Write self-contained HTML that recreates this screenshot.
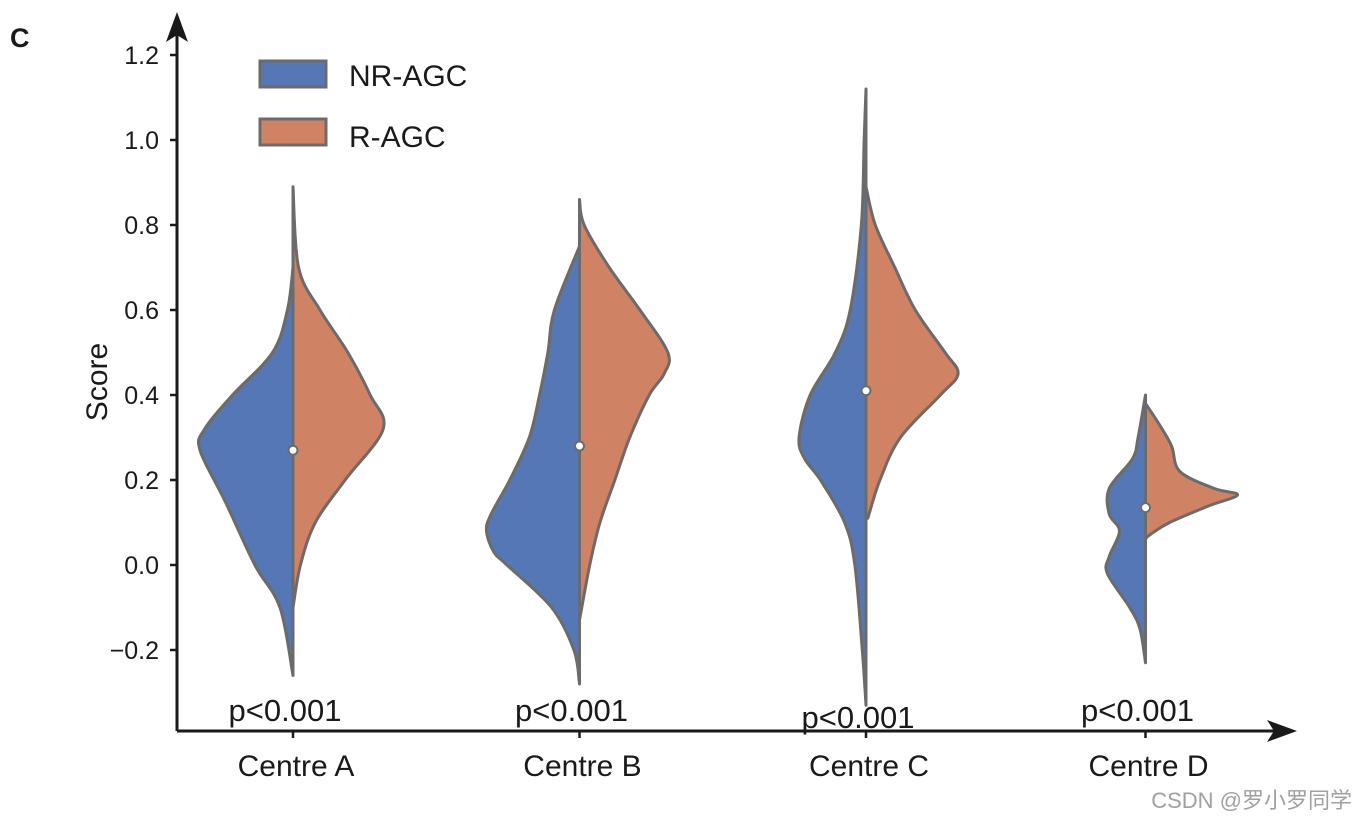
<!DOCTYPE html>
<html><head><meta charset="utf-8"><style>
body{margin:0;background:#fff}
svg text{font-family:"Liberation Sans",Arial,sans-serif;fill:#1a1a1a}
</style></head><body>
<svg width="1358" height="822" viewBox="0 0 1358 822" id="chart">
<text x="10" y="47" font-size="27" font-weight="bold">C</text>
<g id="violins"></g>
<g id="axes"></g>
<g>
 <rect x="260" y="61" width="66" height="26" fill="#5577b5" stroke="#6b6b6b" stroke-width="3"/>
 <text x="349" y="86" font-size="30">NR-AGC</text>
 <rect x="260" y="119" width="66" height="26" fill="#d08364" stroke="#6b6b6b" stroke-width="3"/>
 <text x="349" y="147" font-size="30">R-AGC</text>
</g>
<text transform="translate(107,382) rotate(-90)" text-anchor="middle" font-size="30">Score</text>
</svg>
<script>
const categories=["Centre A","Centre B","Centre C","Centre D"];
const pLabels=["p<0.001","p<0.001","p<0.001","p<0.001"];
const medians=[0.27,0.28,0.41,0.135];
const yTicks=[-0.2,0,0.2,0.4,0.6,0.8,1.0,1.2];
const yTickLabels=["\u22120.2","0.0","0.2","0.4","0.6","0.8","1.0","1.2"];
// [score, relative half-width] profiles
const nrA=[[0.70,0],[0.6,0.06],[0.5,0.22],[0.4,0.65],[0.32,0.95],[0.27,1.0],[0.15,0.73],[0.0,0.41],[-0.1,0.14],[-0.26,0]];
const rA=[[0.89,0],[0.7,0.06],[0.6,0.29],[0.5,0.59],[0.4,0.83],[0.32,0.97],[0.2,0.56],[0.1,0.24],[0.0,0.08],[-0.1,0]];
const nrB=[[0.75,0],[0.6,0.27],[0.5,0.34],[0.4,0.43],[0.3,0.54],[0.2,0.75],[0.12,0.95],[0.08,1.0],[0.03,0.92],[0.0,0.78],[-0.1,0.3],[-0.2,0.06],[-0.28,0]];
const rB=[[0.86,0],[0.8,0.05],[0.7,0.32],[0.6,0.65],[0.5,0.95],[0.45,0.91],[0.4,0.75],[0.3,0.54],[0.2,0.38],[0.1,0.22],[0.0,0.11],[-0.13,0]];
const nrC=[[1.12,0],[1.0,0.02],[0.8,0.05],[0.6,0.17],[0.5,0.33],[0.4,0.6],[0.3,0.72],[0.25,0.66],[0.2,0.49],[0.1,0.23],[0.0,0.12],[-0.2,0.04],[-0.33,0]];
const rC=[[0.89,0],[0.8,0.1],[0.7,0.31],[0.6,0.53],[0.5,0.85],[0.45,0.99],[0.4,0.8],[0.3,0.37],[0.2,0.15],[0.11,0.02]];
const nrD=[[0.40,0],[0.3,0.08],[0.25,0.14],[0.18,0.39],[0.12,0.39],[0.08,0.28],[0.02,0.39],[-0.02,0.41],[-0.1,0.17],[-0.15,0.06],[-0.23,0]];
const rD=[[0.38,0],[0.33,0.15],[0.28,0.28],[0.22,0.37],[0.18,0.74],[0.165,0.99],[0.14,0.69],[0.1,0.26],[0.07,0.04],[0.06,0]];
const nrSeries=[nrA,nrB,nrC,nrD];
const rSeries=[rA,rB,rC,rD];
const NS="http://www.w3.org/2000/svg";
const xPos=i=>293+i*286.5-(i==3?7:0);
const yPos=v=>565-v*425;
const W=93;
const svg=document.getElementById('chart');
const vg=document.getElementById('violins');
const ax=document.getElementById('axes');
function mk(t,a,p){const e=document.createElementNS(NS,t);for(const k in a)e.setAttribute(k,a[k]);(p||svg).appendChild(e);return e;}
function smooth(pts){let d=`M${pts[0][0]},${pts[0][1]}`;for(let i=0;i<pts.length-1;i++){const p0=pts[i-1]||pts[i],p1=pts[i],p2=pts[i+1],p3=pts[i+2]||p2;
d+=` C${p1[0]+(p2[0]-p0[0])/6},${p1[1]+(p2[1]-p0[1])/6} ${p2[0]-(p3[0]-p1[0])/6},${p2[1]-(p3[1]-p1[1])/6} ${p2[0]},${p2[1]}`;}return d;}
categories.forEach((c,i)=>{
 const cx=xPos(i);
 const nl=nrSeries[i].map(p=>[cx-p[1]*W,yPos(p[0])]);
 let d=smooth(nl)+` L${cx},${yPos(nrSeries[i][nrSeries[i].length-1][0])} L${cx},${yPos(nrSeries[i][0][0])} Z`;
 const a=mk('path',{d:d,fill:'#5577b5',stroke:'#6b6b6b','stroke-width':3,'stroke-linejoin':'round'},vg);
 
 
 const rl=rSeries[i].map(p=>[cx+p[1]*W,yPos(p[0])]);
 d=smooth(rl)+` L${cx},${yPos(rSeries[i][rSeries[i].length-1][0])} L${cx},${yPos(rSeries[i][0][0])} Z`;
 const b=mk('path',{d:d,fill:'#d08364',stroke:'#6b6b6b','stroke-width':3,'stroke-linejoin':'round'},vg);
 
 
 const m=mk('circle',{cx:cx,cy:yPos(medians[i]),r:4.5,fill:'#fff',stroke:'#6b6b6b','stroke-width':2},vg);
 
 
 const t=mk('text',{x:cx-8,y:i==2?728:721,'font-size':31,'text-anchor':'middle'});t.textContent=pLabels[i];
 
 
 const tl=mk('text',{x:cx+3,y:776,'font-size':30,'text-anchor':'middle'});tl.textContent=c;
 
 
 const tk=mk('line',{x1:cx,x2:cx,y1:731,y2:738,stroke:'#1a1a1a','stroke-width':2.5},ax);
 
 
});
yTicks.forEach((v,i)=>{
 const tk=mk('line',{x1:170,x2:177,y1:yPos(v),y2:yPos(v),stroke:'#1a1a1a','stroke-width':2.5},ax);
 
 
 const t=mk('text',{x:159,y:yPos(v)+9,'font-size':25,'text-anchor':'end'});t.textContent=yTickLabels[i];
 
 
});
const ya=mk('line',{x1:177,x2:177,y1:731,y2:30,stroke:'#1a1a1a','stroke-width':3},ax);


const yh=mk('polygon',{points:'177,12 166,42 177,35 188,42',fill:'#1a1a1a'},ax);


const xa=mk('line',{x1:177,x2:1280,y1:731,y2:731,stroke:'#1a1a1a','stroke-width':3},ax);


const xh=mk('polygon',{points:'1297,731 1267,720 1274,731 1267,742',fill:'#1a1a1a'},ax);


const wm=mk('text',{x:1352,y:808,'font-size':22,'text-anchor':'end'});
wm.setAttribute('style','fill:#a0a0a0;font-family:"Liberation Sans","Noto Sans CJK SC",sans-serif');
wm.textContent='CSDN @罗小罗同学';


</script>
</body></html>
